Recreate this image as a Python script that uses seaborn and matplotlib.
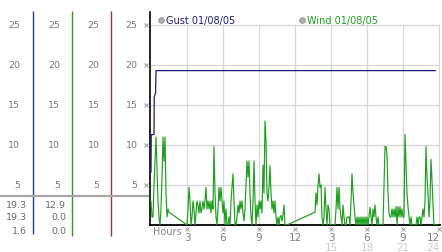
import numpy as np
import pandas as pd
import matplotlib
matplotlib.use("Agg")
import matplotlib.pyplot as plt
import seaborn as sns

sns.set_style("white")
plt.rcParams['font.family'] = ['DejaVu Sans']

# ---------------- data ----------------
series_names = ["Gust 01/08/05", "Wind 01/08/05"]

gust_hours = [0.0, 0.02, 0.25, 0.27, 0.38, 0.42, 23.72]
gust_values = [6.6, 11.3, 11.3, 16.0, 16.5, 19.3, 19.3]

wind_step_minutes = 5
wind_seg_a_start = 0.0
wind_seg_a = [3, 1, 1, 5, 8, 11, 7, 3, 1, 0, 2, 6, 11, 8, 11, 4, 1, 2, 1.6]
wind_seg_b_start = 3.0
wind_seg_b = [0, 2, 4.7, 3, 0, 1, 3, 2, 0, 1.5, 3, 2.5, 1.5, 3, 1.5, 2, 3, 2, 3, 4.7,
              2, 3, 2, 3, 1.5, 3, 2, 9.8, 4, 1, 0, 2, 4.7, 3, 4.7, 3, 1.5, 3, 0, 2,
              0, 0, 1, 0, 3, 4.7, 6.4, 3, 0, 0, 1, 2.5, 1.5, 3, 2, 3, 1.5, 0.5, 2, 5,
              8, 6, 8, 4, 1, 0, 3, 8, 3, 0, 2.5, 1, 3, 2, 3, 1.5, 7.5, 4, 13, 10.5,
              4, 3, 4.7, 7.4, 4, 2, 3, 1.5, 3, 1, 0, 1, 0, 1, 1.2, 0.5, 1.2, 2.5, 0, 0, 0]
wind_seg_c_start = 13.667
wind_seg_c = [1.6, 4, 2.5, 5, 6.4, 4.7, 5, 1, 0, 1, 4.7, 2, 0, 2.5, 2, 0, 0, 0, 0, 0,
              0, 2, 4.7, 2, 4.7, 2, 1, 0, 2.5, 1, 0, 0, 1, 1, 1, 0, 3, 6.4, 4, 2.5,
              1, 0, 1, 0, 1, 0, 1, 0, 1, 0, 1, 0, 1, 0, 1, 2.2, 1, 0, 2, 1,
              2.5, 1, 0, 1, 0, 0, 0, 0, 0, 5, 9.8, 9.8, 8.8, 4, 1.5, 1, 1, 2, 1, 2,
              1, 2.3, 0, 2.3, 1, 2.3, 1, 2, 1, 1, 11.3, 7.5, 4, 2.3, 1, 0, 1, 0, 0, 0,
              0, 0, 1, 0, 1, 1, 0, 1, 2, 1, 3, 9.8, 6, 4, 1, 3, 8.2, 5.6, 2.5, 0,
              0, 0, 0]

y_ticks = [5, 10, 15, 20, 25]
x_ticks = [3, 6, 9, 12, 15, 18, 21, 24]
x_labels_top = ["3", "6", "9", "12", "3", "6", "9", "12"]
x_labels_second = ["", "", "", "", "15", "18", "21", "24"]
gust_stats = ["19.3", "19.3", "1.6"]
wind_stats = ["12.9", "0.0", "0.0"]

# ---------------- build frames ----------------
def seg_times(start, vals):
    return start + np.arange(len(vals)) * wind_step_minutes / 60.0

wind_df = pd.DataFrame({
    "hour": np.concatenate([seg_times(wind_seg_a_start, wind_seg_a),
                            seg_times(wind_seg_b_start, wind_seg_b),
                            seg_times(wind_seg_c_start, wind_seg_c)]),
    "speed": np.concatenate([wind_seg_a, wind_seg_b, wind_seg_c]),
})
gust_df = pd.DataFrame({"hour": gust_hours, "speed": gust_values})

# ---------------- figure ----------------
W, H = 442, 253
fig = plt.figure(figsize=(W / 100, H / 100), dpi=100)
fig.patch.set_facecolor("white")

YMAX = 213 / 8.0
GRID = "#d6d6d6"
LBL = "#7a7a7a"
NAVY = "#1c1c80"
GREEN = "#1f9f1f"

ax = fig.add_axes([150 / W, 1 - 226 / H, 290 / W, 213 / H])
ax.set_xlim(-1 / 12, 289 / 12)
ax.set_ylim(0, YMAX)
ax.set_facecolor("white")

for y in y_ticks:
    ax.axhline(y, color=GRID, lw=0.9, zorder=0)
for x in x_ticks:
    ax.vlines(x, 0, 25.1, color=GRID, lw=0.9, zorder=0)

sns.lineplot(data=wind_df, x="hour", y="speed", ax=ax, color=GREEN,
             linewidth=0.85, estimator=None, sort=False, zorder=3)
sns.lineplot(data=gust_df, x="hour", y="speed", ax=ax, color=NAVY,
             linewidth=0.9, estimator=None, sort=False, zorder=4)

for s in ["top", "right"]:
    ax.spines[s].set_visible(False)
ax.spines["left"].set_color("black")
ax.spines["left"].set_linewidth(1.2)
ax.spines["bottom"].set_color("black")
ax.spines["bottom"].set_linewidth(1.3)
ax.set_xticks([])
ax.set_yticks([])
ax.set_xlabel("")
ax.set_ylabel("")

# small tick glyphs
ax.plot([-0.42] * len(y_ticks), y_ticks, linestyle="none", marker="x",
        markersize=2.2, mew=0.7, color="#9a9a9a", clip_on=False)
ax.plot(x_ticks, [-0.5] * len(x_ticks), linestyle="none", marker="x",
        markersize=2.2, mew=0.7, color="#9a9a9a", clip_on=False)

# x tick labels
ax.text(1 / 6, -0.69, "Hours", fontsize=7, color="#858585", ha="left",
        va="center", clip_on=False)
for i, (x, l1, l2) in enumerate(zip(x_ticks, x_labels_top, x_labels_second)):
    last = i == len(x_ticks) - 1
    xpos = 24.08 if last else x
    ha = "right" if last else "center"
    ax.text(xpos, -1.56, l1, fontsize=7.5, color="#808080", ha=ha,
            va="center", clip_on=False)
    if l2:
        ax.text(xpos, -2.75, l2, fontsize=7.5, color="#cccccc", ha=ha,
                va="center", clip_on=False)

# legend entries
legend_x = [0.81, 12.56]
legend_colors = [NAVY, GREEN]
for lx, name, col in zip(legend_x, series_names, legend_colors):
    ax.plot([lx], [25.66], marker="o", markersize=4, color="#b0b0b0",
            mec="#8c8c8c", mew=0.6, clip_on=False)
    ax.text(lx + 0.4, 25.66, name, fontsize=7, color=col, ha="left",
            va="center", clip_on=False)

# ---------------- left scale panel ----------------
axl = fig.add_axes([0, 1 - 226 / H, 150 / W, 213 / H])
axl.set_xlim(0, 150)
axl.set_ylim(0, YMAX)
axl.axis("off")

axis_cols = [(33, "#2a3f9a", -1.1), (72, "#2e9a2e", -1.4), (111, "#a83232", -1.4)]
for x, c, ylo in axis_cols:
    axl.vlines(x, ylo, 26.7, color=c, lw=1.0, clip_on=False)

axl.hlines(3.6, 0, 149, color="#a8a8a8", lw=1.6, clip_on=False)

label_right = [20, 60, 99.5, 137.5]
for xr in label_right:
    for y in y_ticks:
        axl.text(xr, y, str(y), fontsize=6.8, color=LBL, ha="right",
                 va="center", clip_on=False)

stat_rows = [2.6, 1.0, -0.75]
for yv, g, w in zip(stat_rows, gust_stats, wind_stats):
    axl.text(27, yv, g, fontsize=6.8, color="#6a6a6a", ha="right",
             va="center", clip_on=False)
    axl.text(66, yv, w, fontsize=6.8, color="#6a6a6a", ha="right",
             va="center", clip_on=False)

fig.savefig("out.png", dpi=100, facecolor="white")
